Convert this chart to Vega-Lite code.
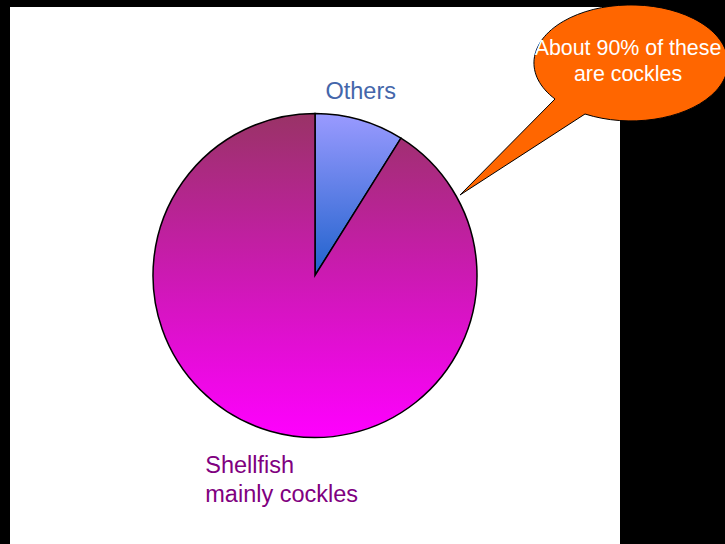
{
  "$schema": "https://vega.github.io/schema/vega-lite/v6.json",
  "width": 610,
  "height": 537,
  "autosize": {"type": "none"},
  "padding": {"left": 10, "top": 7, "right": 105, "bottom": 0},
  "background": "#000000",
  "config": {"view": {"fill": "#FFFFFF", "stroke": null}, "font": "Liberation Sans"},
  "data": {
    "values": [
      {"category": "Others", "label": "Others", "share": 8.9},
      {"category": "Shellfish", "label": "Shellfish\nmainly cockles", "share": 91.1}
    ]
  },
  "layer": [
    {
      "mark": {"type": "arc", "outerRadius": 162, "stroke": "#000000", "strokeWidth": 1.5},
      "encoding": {
        "theta": {"field": "share", "type": "quantitative", "stack": true},
        "detail": {"field": "category", "type": "nominal"},
        "fill": {
          "condition": {
            "test": "datum.category === 'Others'",
            "value": {"gradient": "linear", "x1": 0, "y1": 0, "x2": 0, "y2": 1,
              "stops": [{"offset": 0, "color": "#9A9AFF"}, {"offset": 1, "color": "#1F62CC"}]}
          },
          "value": {"gradient": "linear", "x1": 0, "y1": 0, "x2": 0, "y2": 1,
            "stops": [{"offset": 0, "color": "#993366"}, {"offset": 1, "color": "#FF00FF"}]}
        }
      }
    },
    {
      "mark": {"type": "text", "radius": 191, "dx": -7, "baseline": "middle", "align": "center", "fontSize": 23.5, "color": "#4466AA"},
      "encoding": {
        "theta": {"field": "share", "type": "quantitative", "stack": true},
        "detail": {"field": "category", "type": "nominal"},
        "text": {"condition": {"test": "datum.category === 'Others'", "field": "label"}, "value": ""}
      }
    },
    {
      "mark": {"type": "text", "radius": 205.5, "dx": -53, "baseline": "alphabetic", "align": "left", "fontSize": 23.5, "lineHeight": 29, "lineBreak": "\n", "color": "#800080"},
      "encoding": {
        "theta": {"field": "share", "type": "quantitative", "stack": true},
        "detail": {"field": "category", "type": "nominal"},
        "text": {"condition": {"test": "datum.category === 'Shellfish'", "field": "label"}, "value": ""}
      }
    },
    {
      "data": {"values": [{"note": "About 90% of these\nare cockles"}]},
      "layer": [
        {
          "mark": {
            "type": "point",
            "shape": "M -0.73 0.39 A 0.97 0.58 0 1 1 -0.43 0.54 L -1.68 1.35 Z",
            "size": 40000,
            "filled": true,
            "fill": "#FF6600",
            "fillOpacity": 1,
            "opacity": 1,
            "stroke": "#000000",
            "strokeWidth": 1
          },
          "encoding": {"x": {"value": 618}, "y": {"value": 53}}
        },
        {
          "mark": {"type": "text", "align": "center", "baseline": "alphabetic", "fontSize": 21.4, "lineHeight": 26, "lineBreak": "\n", "color": "#FFFFFF"},
          "encoding": {"x": {"value": 618}, "y": {"value": 48}, "text": {"field": "note"}}
        }
      ]
    }
  ]
}
